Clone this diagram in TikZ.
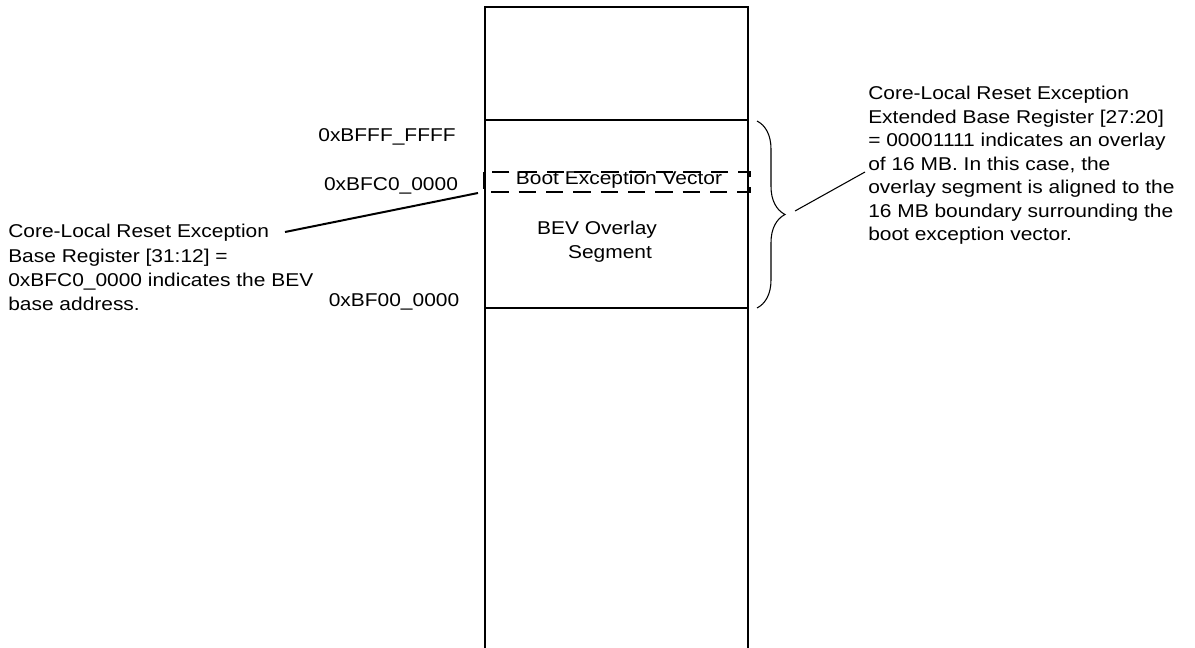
\documentclass[tikz,border=0pt]{standalone}
\usepackage{fontspec}
\setmainfont{Liberation Sans}[FakeStretch=1.13]
\usepackage{tikz}
\usetikzlibrary{decorations.pathreplacing}

\begin{document}
\begin{tikzpicture}[
  x=0.75pt, y=-0.75pt,
  font=\fontsize{13.9}{17.6}\selectfont,
  wall/.style={line width=1.5pt},
  addr/.style={inner sep=0pt,anchor=center},
  note/.style={inner sep=0pt,align=left,anchor=north west},
  lead/.style={line width=0.8pt},
  bevbox/.style={line width=1.3pt,dash pattern=on 13pt off 7.5pt}
]
\useasboundingbox (0,0) rectangle (1195,648);
\draw[wall] (485,648) |- (748,7) -- (748,648);
\draw[wall] (485,120) -- (748,120);
\draw[wall] (485,308) -- (748,308);
\draw[bevbox] (484,172) rectangle (750,192);
\node[addr] (bev) at (619,180) {Boot Exception Vector};
\node[addr] (ovl1) at (597,230) {BEV Overlay};
\node[addr] (ovl2) at (610,254) {Segment};
\node[addr] (top) at (387,137) {0xBFFF\_FFFF};
\node[addr] (base) at (391,186) {0xBFC0\_0000};
\node[addr] (bot) at (394,302) {0xBF00\_0000};
\node[note,font=\fontsize{13.9}{18.3}\selectfont] (leftnote) at (8,224) {Core-Local Reset Exception\\Base Register [31:12] =\\0xBFC0\_0000 indicates the BEV\\base address.};
\node[note] (rightnote) at (868,86) {Core-Local Reset Exception\\Extended Base Register [27:20]\\= 00001111 indicates an overlay\\of 16 MB. In this case, the\\overlay segment is aligned to the\\16 MB boundary surrounding the\\boot exception vector.};
\coordinate (lefttail) at (285,232);
\coordinate (bevtip) at (478,193);
\coordinate (bracetop) at (757,121);
\coordinate (bracebot) at (757,308);
\coordinate (bracetip) at (795,211);
\coordinate (righttail) at (865,172);
\draw[line width=1.5pt] (lefttail) -- (bevtip);
\draw[lead,decorate,decoration={brace,amplitude=21pt}] (bracetop) -- (bracebot);
\draw[lead] (bracetip) -- (righttail);
\end{tikzpicture}
\end{document}
